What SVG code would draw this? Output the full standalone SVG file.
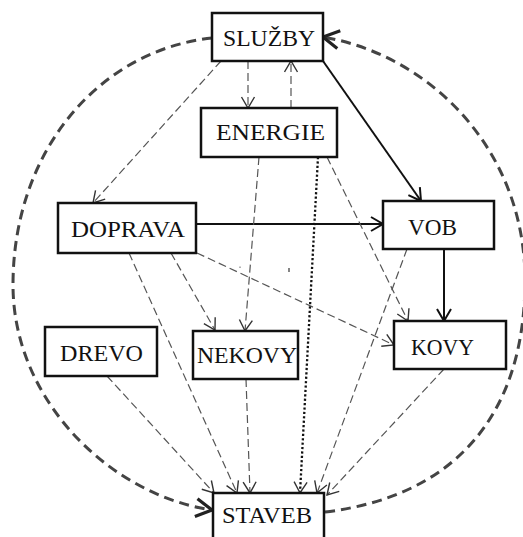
<svg xmlns="http://www.w3.org/2000/svg" width="523" height="537" viewBox="0 0 523 537">
<style>
.box{fill:#fff;stroke:#111;stroke-width:2.5}
.lbl{font-family:"Liberation Serif","Times New Roman",serif;font-size:24px;fill:#111;text-anchor:middle}
.dash{fill:none;stroke:#555;stroke-width:1.2;stroke-dasharray:8,4;marker-end:url(#ah-thin)}
.solid{fill:none;stroke:#111;stroke-width:2;marker-end:url(#ah-solid)}
.dot{fill:none;stroke:#111;stroke-width:2.3;stroke-dasharray:2.2,2.2;marker-end:url(#ah-thin)}
.big{fill:none;stroke:#444;stroke-width:3;stroke-dasharray:10,6;marker-end:url(#ah-big)}
</style>
<defs>
<marker id="ah-thin" markerUnits="userSpaceOnUse" markerWidth="14" markerHeight="16" viewBox="-1 -1 14 16" refX="11" refY="6.5" orient="auto">
<path d="M0,0 L11,6.5 L0,13" fill="none" stroke="#333" stroke-width="1.4"/>
</marker>
<marker id="ah-solid" markerUnits="userSpaceOnUse" markerWidth="16" markerHeight="18" viewBox="-1 -1 16 18" refX="12" refY="7" orient="auto">
<path d="M0,0 L12,7 L0,14" fill="none" stroke="#111" stroke-width="2"/>
</marker>
<marker id="ah-big" markerUnits="userSpaceOnUse" markerWidth="22" markerHeight="24" viewBox="-2 -2 22 24" refX="16" refY="9" orient="auto">
<path d="M0,0 L16,9 L0,18" fill="none" stroke="#222" stroke-width="3.2"/>
</marker>
</defs>
<rect width="523" height="537" fill="#fff"/>
<g id="connectors">
<path class="dash" d="M248,61 L248,108"/>
<path class="dash" d="M291,108 L291,61"/>
<path class="solid" d="M323,61 L421,201"/>
<path class="dash" d="M221,61 L93,203"/>
<path class="solid" d="M196,224 L383,224"/>
<path class="solid" d="M444,249 L444,321"/>
<path class="dash" d="M171,253 L215,330"/>
<path class="dash" d="M197,253 L394,345"/>
<path class="dash" d="M129,253 L237,493"/>
<path class="dash" d="M107,376 L214,493"/>
<path class="dash" d="M246,379 L250,493"/>
<path class="dot" d="M318,157 L300,493"/>
<path class="dash" d="M407,249 L317,493"/>
<path class="dash" d="M444,369 L327,495"/>
<path class="dash" d="M327,157 L408,321"/>
<path class="dash" d="M259,157 L245,331"/>
<path class="big" d="M212,38 C100,50 13,150 13,285 C13,400 110,495 212,510"/>
<path class="big" d="M325,512 C450,497 525,420 525,280 C525,150 430,55 323,37"/>
<path d="M289,268 L289,272" stroke="#333" stroke-width="1.2"/>
<path d="M240,266.5 L240,268" stroke="#666" stroke-width="1"/>
</g>
<g id="SLUZBY"><rect class="box" x="212" y="13" width="111" height="48"/><text class="lbl" x="269" y="46" textLength="92" lengthAdjust="spacingAndGlyphs">SLUŽBY</text></g>
<g id="ENERGIE"><rect class="box" x="201" y="108" width="136" height="49"/><text class="lbl" x="270.5" y="140" textLength="109" lengthAdjust="spacingAndGlyphs">ENERGIE</text></g>
<g id="DOPRAVA"><rect class="box" x="58" y="203" width="138" height="50"/><text class="lbl" x="128" y="237" textLength="114" lengthAdjust="spacingAndGlyphs">DOPRAVA</text></g>
<g id="VOB"><rect class="box" x="383" y="201" width="111" height="48"/><text class="lbl" x="432.5" y="235" textLength="49" lengthAdjust="spacingAndGlyphs">VOB</text></g>
<g id="KOVY"><rect class="box" x="394" y="321" width="112" height="48"/><text class="lbl" x="442.5" y="355" textLength="63" lengthAdjust="spacingAndGlyphs">KOVY</text></g>
<g id="DREVO"><rect class="box" x="45" y="327" width="112" height="49"/><text class="lbl" x="101.5" y="361" textLength="83" lengthAdjust="spacingAndGlyphs">DREVO</text></g>
<g id="NEKOVY"><rect class="box" x="193" y="331" width="105" height="48"/><text class="lbl" x="247" y="363" textLength="100" lengthAdjust="spacingAndGlyphs">NEKOVY</text></g>
<g id="STAVEB"><rect class="box" x="213" y="493" width="111" height="50"/><text class="lbl" x="267" y="523" textLength="90" lengthAdjust="spacingAndGlyphs">STAVEB</text></g>
</svg>
